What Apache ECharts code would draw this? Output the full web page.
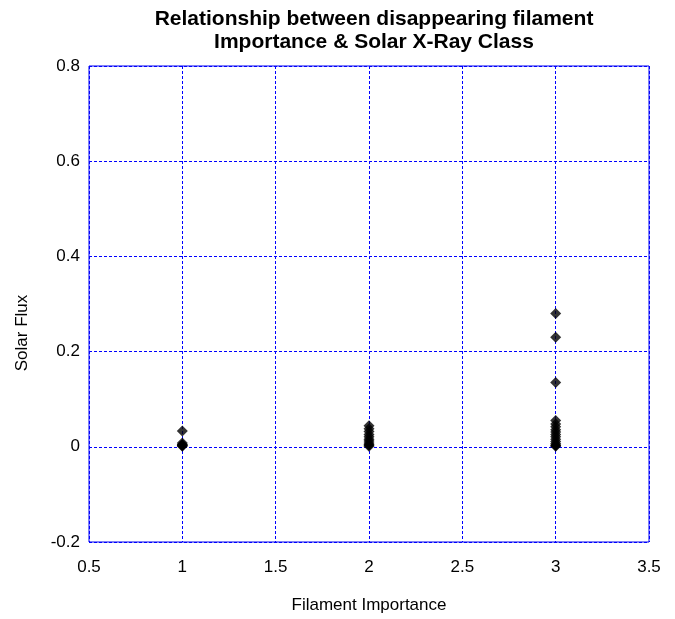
<!DOCTYPE html>
<html><head><meta charset="utf-8">
<script src="https://cdn.jsdelivr.net/npm/echarts@6/dist/echarts.min.js"></script>
<style>html,body{margin:0;padding:0;background:#fff}#c{width:675px;height:619px}</style>
</head><body><div id="c"></div>
<script>
const imp1 = [0.033, 0.008, 0.005, 0.003, 0.002, 0.001, 0.004];
const imp2 = [0.044, 0.038, 0.032, 0.026, 0.021, 0.016, 0.012, 0.008, 0.005, 0.003, 0.001];
const imp3 = [0.28, 0.23, 0.135, 0.055, 0.048, 0.042, 0.036, 0.031, 0.026, 0.021, 0.016, 0.011, 0.007, 0.004, 0.002, 0.001];
const importance = [1, 2, 3];
const xTicks = [0.5, 1, 1.5, 2, 2.5, 3, 3.5];
const yTicks = [-0.2, 0, 0.2, 0.4, 0.6, 0.8];

const groups = [imp1, imp2, imp3];
const data = [];
groups.forEach((g, i) => g.forEach(v => data.push([importance[i], v])));

const chart = echarts.init(document.getElementById('c'));
const font = 'Liberation Sans, Arial, sans-serif';
chart.setOption({
  animation: false,
  title: {
    text: 'Relationship between disappearing filament\nImportance & Solar X-Ray Class',
    left: 369, top: 3, textAlign: 'center',
    textStyle: {fontFamily: font, fontSize: 21, fontWeight: 'bold', color: '#000', lineHeight: 23}
  },
  grid: {left: 89, right: 26, top: 66, bottom: 77, show: true, borderColor: '#0000ee', borderWidth: 1},
  xAxis: {
    type: 'value', min: 0.5, max: 3.5, interval: 0.5,
    name: 'Filament Importance', nameLocation: 'middle', nameGap: 55, nameMoveOverlap: false,
    nameTextStyle: {fontFamily: font, fontSize: 17, color: '#000'},
    axisLine: {show: false}, axisTick: {show: false},
    axisLabel: {fontFamily: font, fontSize: 17, color: '#000', margin: 17,
      formatter: v => String(v)},
    splitLine: {show: true, lineStyle: {color: '#0000ff', type: [3, 2], width: 1}}
  },
  yAxis: {
    type: 'value', min: -0.2, max: 0.8, interval: 0.2,
    name: 'Solar Flux', nameLocation: 'middle', nameGap: 58, nameRotate: 90, nameMoveOverlap: false,
    nameTextStyle: {fontFamily: font, fontSize: 17, color: '#000', padding: [0, 58, 0, 0]},
    axisLine: {show: false}, axisTick: {show: false},
    axisLabel: {fontFamily: font, fontSize: 17, color: '#000', margin: 9,
      formatter: v => String(Math.round(v * 10) / 10)},
    splitLine: {show: true, lineStyle: {color: '#0000ff', type: [3, 2], width: 1}}
  },
  series: [{
    type: 'scatter', data: data, symbol: 'diamond', symbolSize: 11,
    itemStyle: {color: '#000'}
  }]
});
</script></body></html>
